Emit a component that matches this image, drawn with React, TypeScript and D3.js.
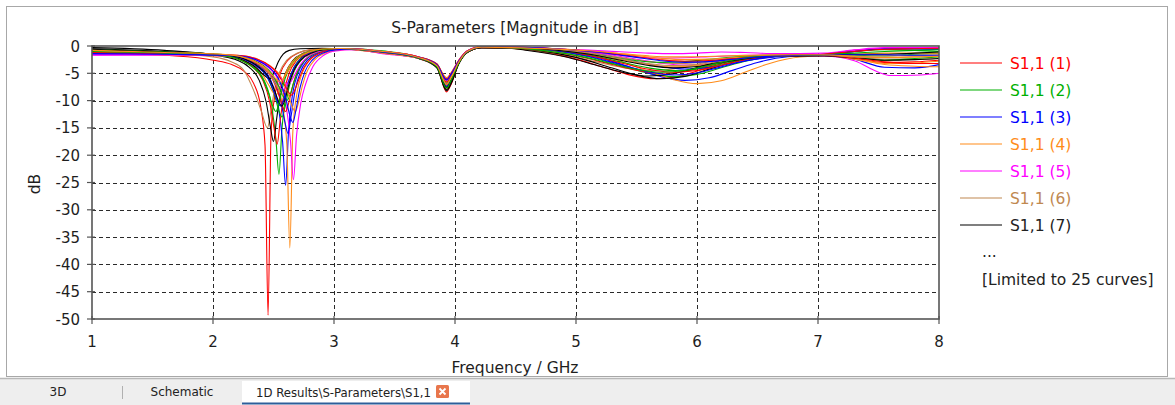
import React from "react";
import * as d3 from "d3";

type P = [number, number];

const xTicks = [1, 2, 3, 4, 5, 6, 7, 8];
const yTicks = [0, -5, -10, -15, -20, -25, -30, -35, -40, -45, -50];
const colors = ["#ff0000", "#00b000", "#0000ff", "#ff8c1a", "#ff00ff", "#c08850", "#000000"];
const legendLabels = ["S1,1 (1)", "S1,1 (2)", "S1,1 (3)", "S1,1 (4)", "S1,1 (5)", "S1,1 (6)", "S1,1 (7)"];
const tabs = ["3D", "Schematic", "1D Results\\S-Parameters\\S1,1"];

const s01: P[] = [[1.0,-1.2],[1.6,-1.7],[2.005,-2.6],[2.155,-3.4],[2.255,-4.6],[2.335,-6.8],[2.395,-11.2],[2.43,-18.2],[2.455,-49.3],[2.48,-15.7],[2.515,-8.6],[2.555,-5.1],[2.615,-2.7],[2.705,-1.3],[2.805,-0.7],[2.955,-0.5],[3.4,-1.2],[3.7,-2.3],[3.85,-3.9],[3.93,-8.4],[3.97,-6.9],[4.03,-3.3],[4.1,-1.2],[4.22,-0.3],[4.45,-0.4],[4.65,-0.85],[4.95,-2.08],[5.25,-4.04],[5.45,-5.33],[5.65,-6.0],[5.85,-5.56],[6.05,-4.24],[6.25,-2.92],[6.5,-1.95],[7.05,-1.7],[7.3,-2.3],[7.55,-3.0],[7.8,-2.9],[8.0,-2.6]];
const s02: P[] = [[1.0,-1.0],[1.6,-1.3],[2.095,-1.8],[2.245,-2.6],[2.345,-4.0],[2.425,-6.4],[2.485,-11.0],[2.52,-17.1],[2.545,-23.5],[2.57,-15.1],[2.605,-8.5],[2.645,-5.1],[2.705,-2.7],[2.795,-1.3],[2.895,-0.7],[3.045,-0.5],[3.4,-1.1],[3.7,-2.2],[3.85,-3.6],[3.93,-7.5],[3.97,-6.0],[4.03,-3.1],[4.1,-1.1],[4.22,-0.2],[4.45,-0.3],[4.8,-0.82],[5.1,-1.96],[5.4,-3.78],[5.6,-4.98],[5.8,-5.6],[6.0,-5.2],[6.2,-4.0],[6.4,-2.8],[6.65,-1.92],[7.05,-1.6],[7.3,-1.7],[7.55,-1.8],[7.8,-1.5],[8.0,-1.3]];
const s03: P[] = [[1.0,-1.3],[1.6,-1.5],[2.15,-1.8],[2.3,-2.6],[2.4,-4.0],[2.48,-6.4],[2.54,-11.0],[2.575,-17.5],[2.6,-25.5],[2.625,-15.3],[2.66,-8.5],[2.7,-5.1],[2.76,-2.7],[2.85,-1.3],[2.95,-0.7],[3.1,-0.6],[3.4,-1.3],[3.7,-2.3],[3.85,-3.7],[3.93,-7.0],[3.97,-5.6],[4.03,-3.0],[4.1,-1.1],[4.22,-0.3],[4.45,-0.3],[4.9,-0.87],[5.2,-2.17],[5.5,-4.24],[5.7,-5.59],[5.9,-6.3],[6.1,-5.83],[6.3,-4.42],[6.5,-3.01],[6.75,-1.98],[7.05,-1.7],[7.3,-2.4],[7.55,-3.9],[7.8,-4.0],[8.0,-3.4]];
const s04: P[] = [[1.0,-1.5],[1.6,-1.6],[2.185,-1.8],[2.335,-2.6],[2.435,-4.0],[2.515,-6.4],[2.575,-11.0],[2.61,-18.0],[2.635,-37],[2.66,-15.6],[2.695,-8.5],[2.735,-5.1],[2.795,-2.7],[2.885,-1.3],[2.985,-0.7],[3.135,-0.6],[3.4,-1.2],[3.7,-2.1],[3.85,-3.4],[3.93,-6.5],[3.97,-5.3],[4.03,-2.9],[4.1,-1.0],[4.22,-0.2],[4.45,-0.4],[5.0,-0.92],[5.3,-2.35],[5.6,-4.63],[5.8,-6.12],[6.0,-6.9],[6.2,-6.37],[6.4,-4.78],[6.6,-3.19],[6.85,-2.02],[7.05,-1.8],[7.3,-2.2],[7.55,-3.2],[7.8,-3.1],[8.0,-2.8]];
const s05: P[] = [[1.0,-1.7],[1.6,-1.7],[2.215,-1.9],[2.365,-2.7],[2.465,-4.1],[2.545,-6.5],[2.605,-11.0],[2.64,-17.3],[2.665,-24.5],[2.69,-16.5],[2.725,-10.5],[2.765,-7.0],[2.825,-3.8],[2.915,-1.7],[3.015,-0.9],[3.165,-0.7],[3.4,-1.4],[3.7,-2.2],[3.85,-3.5],[3.93,-6.3],[3.97,-5.2],[4.03,-2.8],[4.1,-1.0],[4.22,-0.2],[4.45,-0.3],[4.9,-0.65],[5.2,-1.33],[5.5,-2.42],[5.7,-3.13],[5.9,-3.5],[6.1,-3.31],[6.3,-2.74],[6.5,-2.17],[6.75,-1.75],[7.05,-1.8],[7.3,-2.7],[7.5,-4.8],[7.6,-5.4],[7.85,-5.3],[8.0,-5.0]];
const s06: P[] = [[1.0,-1.1],[1.6,-1.4],[2.0,-2.0],[2.15,-2.9],[2.25,-4.3],[2.31,-6.8],[2.36,-9.5],[2.4,-12.0],[2.45,-15],[2.475,-12.4],[2.51,-7.8],[2.55,-4.8],[2.61,-2.6],[2.7,-1.29],[2.8,-0.71],[2.95,-0.5],[3.4,-1.1],[3.7,-2.2],[3.85,-3.8],[3.93,-7.8],[3.97,-6.3],[4.03,-3.2],[4.1,-1.2],[4.22,-0.3],[4.45,-0.4],[4.6,-0.73],[4.9,-1.63],[5.2,-3.07],[5.4,-4.01],[5.6,-4.5],[5.8,-4.21],[6.0,-3.34],[6.2,-2.47],[6.45,-1.83],[7.05,-1.6],[7.3,-2.0],[7.55,-2.4],[7.8,-2.4],[8.0,-2.3]];
const s07: P[] = [[1.0,-0.3],[1.6,-0.8],[2.05,-1.8],[2.2,-2.6],[2.3,-3.9],[2.38,-6.2],[2.44,-10.3],[2.475,-14.9],[2.5,-17.5],[2.525,-13.5],[2.56,-8.1],[2.6,-4.95],[2.66,-2.66],[2.75,-1.3],[2.85,-0.72],[3.0,-0.5],[3.4,-1.0],[3.7,-2.3],[3.85,-4.0],[3.93,-8.2],[3.97,-6.8],[4.03,-3.3],[4.1,-1.2],[4.22,-0.3],[4.45,-0.3],[4.7,-0.85],[5.0,-2.08],[5.3,-4.04],[5.5,-5.33],[5.7,-6.0],[5.9,-5.56],[6.1,-4.24],[6.3,-2.92],[6.55,-1.95],[7.05,-1.5],[7.3,-0.9],[7.55,-0.6],[7.8,-0.5],[8.0,-0.5]];
const s08: P[] = [[1.0,-0.9],[1.6,-1.2],[2.08,-1.8],[2.23,-2.6],[2.33,-3.9],[2.41,-6.2],[2.47,-10.4],[2.505,-15.1],[2.53,-18],[2.555,-13.7],[2.59,-8.2],[2.63,-4.95],[2.69,-2.66],[2.78,-1.33],[2.88,-0.72],[3.03,-0.5],[3.4,-1.2],[3.7,-2.2],[3.85,-3.7],[3.93,-7.2],[3.97,-5.9],[4.03,-3.1],[4.1,-1.1],[4.22,-0.2],[4.45,-0.3],[4.7,-0.77],[5.0,-1.78],[5.3,-3.39],[5.5,-4.45],[5.7,-5.0],[5.9,-4.66],[6.1,-3.64],[6.3,-2.62],[6.55,-1.87],[7.05,-1.5],[7.3,-0.8],[7.55,-0.4],[7.8,-0.3],[8.0,-0.3]];
const s09: P[] = [[1.0,-0.8],[1.6,-1.1],[2.12,-1.77],[2.27,-2.52],[2.37,-3.8],[2.45,-5.75],[2.51,-9.1],[2.545,-11.9],[2.57,-13],[2.595,-11.2],[2.63,-7.4],[2.67,-4.64],[2.73,-2.56],[2.82,-1.27],[2.92,-0.7],[3.07,-0.5],[3.4,-1.0],[3.7,-2.1],[3.85,-3.5],[3.93,-6.8],[3.97,-5.6],[4.03,-3.0],[4.1,-1.0],[4.22,-0.2],[4.45,-0.3],[4.8,-0.73],[5.1,-1.63],[5.4,-3.07],[5.6,-4.01],[5.8,-4.5],[6.0,-4.21],[6.2,-3.34],[6.4,-2.47],[6.65,-1.83],[7.05,-1.7],[7.3,-2.1],[7.55,-2.6],[7.8,-2.3],[8.0,-2.0]];
const s10: P[] = [[1.0,-1.2],[1.6,-1.3],[2.17,-1.8],[2.32,-2.6],[2.42,-3.9],[2.5,-6.1],[2.56,-10.0],[2.595,-14.0],[2.62,-16],[2.645,-12.9],[2.68,-8.0],[2.72,-4.86],[2.78,-2.63],[2.87,-1.3],[2.97,-0.71],[3.12,-0.5],[3.4,-1.1],[3.7,-2.0],[3.85,-3.3],[3.93,-6.0],[3.97,-4.9],[4.03,-2.7],[4.1,-0.9],[4.22,-0.2],[4.45,-0.2],[4.9,-0.7],[5.2,-1.54],[5.5,-2.87],[5.7,-3.74],[5.9,-4.2],[6.1,-3.94],[6.3,-3.16],[6.5,-2.38],[6.75,-1.81],[7.05,-1.6],[7.3,-1.0],[7.55,-0.5],[7.8,-0.5],[8.0,-0.6]];
const s11: P[] = [[1.0,-1.4],[1.6,-1.6],[2.07,-1.8],[2.22,-2.3],[2.32,-3.36],[2.4,-4.93],[2.46,-7.14],[2.52,-9],[2.58,-6.08],[2.62,-4.02],[2.68,-2.28],[2.77,-1.15],[2.87,-0.63],[3.02,-0.5],[3.4,-1.3],[3.7,-2.3],[3.85,-3.8],[3.93,-7.8],[3.97,-6.3],[4.03,-3.2],[4.1,-1.2],[4.22,-0.3],[4.45,-0.4],[4.8,-0.67],[5.1,-1.42],[5.4,-2.61],[5.6,-3.39],[5.8,-3.8],[6.0,-3.58],[6.2,-2.92],[6.4,-2.26],[6.65,-1.78],[7.05,-1.7],[7.3,-2.4],[7.55,-3.4],[7.8,-3.7],[8.0,-3.8]];
const s12: P[] = [[1.0,-1.6],[1.6,-1.6],[2.13,-1.8],[2.28,-2.25],[2.38,-3.21],[2.46,-4.62],[2.52,-6.53],[2.58,-8],[2.64,-5.62],[2.68,-3.79],[2.74,-2.18],[2.83,-1.1],[2.93,-0.6],[3.08,-0.5],[3.4,-1.2],[3.7,-2.1],[3.85,-3.5],[3.93,-6.8],[3.97,-5.5],[4.03,-2.9],[4.1,-1.0],[4.22,-0.2],[4.45,-0.2],[4.7,-0.54],[5.0,-0.94],[5.3,-1.57],[5.5,-1.98],[5.7,-2.2],[5.9,-2.14],[6.1,-1.96],[6.3,-1.78],[6.55,-1.65],[7.05,-1.5],[7.3,-0.8],[7.55,-0.4],[7.8,-0.3],[8.0,-0.3]];
const s13: P[] = [[1.0,-1.0],[1.6,-1.3],[2.1,-1.6],[2.25,-2.13],[2.35,-3.03],[2.43,-4.25],[2.49,-5.83],[2.55,-7],[2.61,-5.08],[2.65,-3.49],[2.71,-2.04],[2.8,-1.03],[2.9,-0.57],[3.05,-0.5],[3.4,-1.1],[3.7,-2.2],[3.85,-3.6],[3.93,-7.3],[3.97,-5.9],[4.03,-3.1],[4.1,-1.1],[4.22,-0.2],[4.45,-0.3],[4.8,-0.62],[5.1,-1.24],[5.4,-2.22],[5.6,-2.86],[5.8,-3.2],[6.0,-3.04],[6.2,-2.56],[6.4,-2.08],[6.65,-1.73],[7.05,-1.6],[7.3,-1.9],[7.55,-1.8],[7.8,-1.7],[8.0,-1.6]];
const s14: P[] = [[1.0,-0.5],[1.6,-1.0],[2.02,-1.56],[2.17,-2.03],[2.27,-2.81],[2.35,-3.84],[2.41,-5.12],[2.47,-6],[2.51,-4.5],[2.54,-2.9],[2.58,-1.5],[2.63,-0.8],[2.72,-0.5],[2.9,-0.4],[3.4,-1.0],[3.7,-2.2],[3.85,-3.9],[3.93,-8.0],[3.97,-6.6],[4.03,-3.3],[4.1,-1.2],[4.22,-0.3],[4.45,-0.4],[4.6,-0.81],[4.9,-1.93],[5.2,-3.72],[5.4,-4.89],[5.6,-5.5],[5.8,-5.11],[6.0,-3.94],[6.2,-2.77],[6.45,-1.91],[7.05,-1.8],[7.3,-2.2],[7.55,-2.6],[7.8,-2.5],[8.0,-2.3]];
const s15: P[] = [[1.0,-1.3],[1.6,-1.4],[2.15,-1.76],[2.3,-2.5],[2.4,-3.75],[2.48,-5.6],[2.54,-8.7],[2.575,-11.1],[2.6,-12],[2.625,-10.5],[2.66,-7.16],[2.7,-4.53],[2.76,-2.53],[2.85,-1.25],[2.95,-0.69],[3.1,-0.5],[3.4,-1.2],[3.7,-2.1],[3.85,-3.5],[3.93,-6.6],[3.97,-5.4],[4.03,-2.9],[4.1,-1.0],[4.22,-0.2],[4.45,-0.3],[4.8,-0.75],[5.1,-1.72],[5.4,-3.26],[5.6,-4.27],[5.8,-4.8],[6.0,-4.48],[6.2,-3.52],[6.4,-2.56],[6.65,-1.86],[7.05,-1.7],[7.3,-2.2],[7.55,-2.9],[7.8,-3.2],[8.0,-3.2]];
const s16: P[] = [[1.0,-0.7],[1.6,-1.1],[2.16,-1.72],[2.31,-2.4],[2.41,-3.5],[2.49,-5.2],[2.55,-7.7],[2.585,-9.45],[2.61,-10],[2.635,-9.06],[2.67,-6.5],[2.71,-4.22],[2.77,-2.37],[2.86,-1.18],[2.96,-0.65],[3.11,-0.45],[3.4,-0.9],[3.7,-2.0],[3.85,-3.5],[3.93,-6.9],[3.97,-5.6],[4.03,-3.0],[4.1,-1.0],[4.22,-0.2],[4.45,-0.2],[4.7,-0.61],[5.0,-1.18],[5.3,-2.09],[5.5,-2.69],[5.7,-3.0],[5.9,-2.86],[6.1,-2.44],[6.3,-2.02],[6.55,-1.71],[7.05,-1.5],[7.3,-1.0],[7.55,-0.7],[7.8,-0.8],[8.0,-1.0]];
const s17: P[] = [[1.0,-1.5],[1.6,-1.5],[2.11,-1.75],[2.26,-2.47],[2.36,-3.7],[2.44,-5.4],[2.5,-8.2],[2.535,-10.3],[2.56,-11],[2.585,-9.8],[2.62,-6.85],[2.66,-4.4],[2.72,-2.49],[2.81,-1.23],[2.91,-0.68],[3.06,-0.5],[3.4,-1.1],[3.7,-2.2],[3.85,-3.7],[3.93,-7.4],[3.97,-6.0],[4.03,-3.1],[4.1,-1.1],[4.22,-0.2],[4.45,-0.3],[4.8,-0.79],[5.1,-1.87],[5.4,-3.59],[5.6,-4.71],[5.8,-5.3],[6.0,-4.93],[6.2,-3.82],[6.4,-2.71],[6.65,-1.9],[7.05,-1.6],[7.3,-1.0],[7.55,-0.5],[7.8,-0.5],[8.0,-0.6]];
const s18: P[] = [[1.0,-1.1],[1.6,-1.2],[2.23,-1.76],[2.38,-2.5],[2.48,-3.75],[2.56,-5.6],[2.62,-8.7],[2.655,-11.1],[2.68,-12],[2.705,-10.5],[2.74,-7.16],[2.78,-4.53],[2.84,-2.53],[2.93,-1.25],[3.03,-0.69],[3.18,-0.6],[3.4,-1.0],[3.7,-2.0],[3.85,-3.3],[3.93,-5.8],[3.97,-4.8],[4.03,-2.6],[4.1,-0.9],[4.22,-0.1],[4.45,-0.2],[4.9,-0.57],[5.2,-1.03],[5.5,-1.77],[5.7,-2.25],[5.9,-2.5],[6.1,-2.41],[6.3,-2.14],[6.5,-1.87],[6.75,-1.67],[7.05,-1.6],[7.3,-1.5],[7.55,-1.3],[7.8,-1.3],[8.0,-1.3]];
const s19: P[] = [[1.0,-1.6],[1.6,-1.5],[2.17,-1.7],[2.32,-2.13],[2.42,-3.03],[2.5,-4.25],[2.56,-5.83],[2.62,-7],[2.68,-5.08],[2.72,-3.49],[2.78,-2.04],[2.87,-1.03],[2.97,-0.57],[3.12,-0.45],[3.4,-1.0],[3.7,-2.0],[3.85,-3.4],[3.93,-6.2],[3.97,-5.0],[4.03,-2.7],[4.1,-0.9],[4.22,-0.1],[4.45,-0.1],[4.8,-0.5],[5.1,-0.76],[5.4,-1.1],[5.6,-1.3],[5.8,-1.4],[6.0,-1.3],[6.2,-1.1],[6.4,-1.2],[6.65,-1.4],[7.05,-1.3],[7.3,-0.7],[7.55,-0.3],[7.8,-0.3],[8.0,-0.3]];
const s20: P[] = [[1.0,-0.9],[1.6,-1.3],[2.13,-1.7],[2.28,-2.3],[2.38,-3.36],[2.46,-4.93],[2.52,-7.14],[2.58,-9],[2.64,-6.08],[2.68,-4.02],[2.74,-2.28],[2.83,-1.15],[2.93,-0.63],[3.08,-0.5],[3.4,-1.2],[3.7,-2.2],[3.85,-3.6],[3.93,-7.0],[3.97,-5.7],[4.03,-3.0],[4.1,-1.1],[4.22,-0.2],[4.45,-0.3],[4.8,-0.66],[5.1,-1.36],[5.4,-2.48],[5.6,-3.22],[5.8,-3.6],[6.0,-3.4],[6.2,-2.8],[6.4,-2.2],[6.65,-1.76],[7.05,-1.7],[7.3,-2.0],[7.55,-2.1],[7.8,-2.0],[8.0,-1.8]];
const s21: P[] = [[1.0,-0.6],[1.6,-1.2],[2.12,-1.75],[2.27,-2.47],[2.37,-3.7],[2.45,-5.4],[2.51,-8.2],[2.545,-10.3],[2.57,-11],[2.595,-9.8],[2.63,-6.85],[2.67,-4.4],[2.73,-2.49],[2.82,-1.23],[2.92,-0.68],[3.07,-0.5],[3.4,-1.1],[3.7,-2.2],[3.85,-3.8],[3.93,-7.6],[3.97,-6.2],[4.03,-3.2],[4.1,-1.1],[4.22,-0.3],[4.45,-0.3],[4.8,-0.69],[5.1,-1.48],[5.4,-2.74],[5.6,-3.57],[5.8,-4.0],[6.0,-3.76],[6.2,-3.04],[6.4,-2.32],[6.65,-1.79],[7.05,-1.6],[7.3,-1.5],[7.55,-1.5],[7.8,-1.3],[8.0,-1.1]];
const s22: P[] = [[1.0,-1.2],[1.6,-1.4],[2.2,-1.7],[2.35,-2.3],[2.45,-3.36],[2.53,-4.93],[2.59,-7.14],[2.65,-9],[2.71,-6.08],[2.75,-4.02],[2.81,-2.28],[2.9,-1.15],[3.0,-0.63],[3.15,-0.5],[3.4,-1.0],[3.7,-2.0],[3.85,-3.3],[3.93,-6.1],[3.97,-5.0],[4.03,-2.7],[4.1,-0.9],[4.22,-0.2],[4.45,-0.2],[4.9,-0.59],[5.2,-1.12],[5.5,-1.96],[5.7,-2.51],[5.9,-2.8],[6.1,-2.68],[6.3,-2.32],[6.5,-1.96],[6.75,-1.7],[7.05,-1.5],[7.3,-1.0],[7.55,-0.6],[7.8,-0.5],[8.0,-0.4]];
const s23: P[] = [[1.0,-1.0],[1.6,-1.3],[2.07,-1.76],[2.22,-2.5],[2.32,-3.75],[2.4,-5.6],[2.46,-8.7],[2.495,-11.1],[2.52,-12],[2.545,-10.5],[2.58,-7.16],[2.62,-4.53],[2.68,-2.53],[2.77,-1.25],[2.87,-0.69],[3.02,-0.5],[3.4,-1.1],[3.7,-2.2],[3.85,-3.8],[3.93,-7.7],[3.97,-6.2],[4.03,-3.2],[4.1,-1.1],[4.22,-0.2],[4.45,-0.3],[4.7,-0.75],[5.0,-1.72],[5.3,-3.26],[5.5,-4.27],[5.7,-4.8],[5.9,-4.48],[6.1,-3.52],[6.3,-2.56],[6.55,-1.86],[7.05,-1.6],[7.3,-1.3],[7.55,-1.0],[7.8,-0.8],[8.0,-0.7]];
const s24: P[] = [[1.0,-1.4],[1.6,-1.5],[2.21,-1.78],[2.36,-2.55],[2.46,-3.83],[2.54,-5.9],[2.6,-9.4],[2.635,-12.7],[2.66,-14],[2.685,-11.8],[2.72,-7.6],[2.76,-4.7],[2.82,-2.58],[2.91,-1.28],[3.01,-0.71],[3.16,-0.55],[3.4,-1.1],[3.7,-2.1],[3.85,-3.4],[3.93,-6.2],[3.97,-5.1],[4.03,-2.8],[4.1,-1.0],[4.22,-0.2],[4.45,-0.2],[4.9,-0.61],[5.2,-1.18],[5.5,-2.09],[5.7,-2.69],[5.9,-3.0],[6.1,-2.86],[6.3,-2.44],[6.5,-2.02],[6.75,-1.71],[7.05,-1.6],[7.3,-1.6],[7.55,-1.6],[7.8,-1.7],[8.0,-1.7]];
const s25: P[] = [[1.0,-0.8],[1.6,-1.2],[2.105,-1.58],[2.255,-2.08],[2.355,-2.92],[2.435,-4.05],[2.495,-5.48],[2.555,-6.5],[2.615,-4.8],[2.655,-3.33],[2.715,-1.95],[2.805,-1.0],[2.905,-0.56],[3.05,-0.45],[3.4,-1.0],[3.7,-2.1],[3.85,-3.6],[3.93,-7.0],[3.97,-5.7],[4.03,-3.0],[4.1,-1.0],[4.22,-0.2],[4.45,-0.3],[4.8,-0.53],[5.1,-0.88],[5.4,-1.44],[5.6,-1.81],[5.8,-2.0],[6.0,-1.96],[6.2,-1.84],[6.4,-1.72],[6.65,-1.63],[7.05,-1.6],[7.3,-1.9],[7.55,-2.1],[7.8,-2.0],[8.0,-1.9]];

const series: P[][] = [s01, s02, s03, s04, s05, s06, s07, s08, s09, s10, s11, s12, s13, s14, s15, s16, s17, s18, s19, s20, s21, s22, s23, s24, s25];

const FONT = "'DejaVu Sans', Verdana, sans-serif";

export default function App() {
  const W = 1175, H = 405;
  const left = 92, right = 939, top = 46, bottom = 319;
  const x = d3.scaleLinear().domain([1, 8]).range([left, right]);
  const y = d3.scaleLinear().domain([-50, 0]).range([bottom, top]);
  const line = d3.line<P>().x((d) => x(d[0])).y((d) => y(d[1])).curve(d3.curveMonotoneX);
  const axisCol = "#555555";
  const textCol = "#1e1e1e";

  return (
    <svg width={W} height={H} style={{ position: "absolute", left: 0, top: 0, background: "#fff" }} fontFamily={FONT}>
      <defs>
        <clipPath id="plotclip">
          <rect x={left} y={top - 1} width={right - left} height={bottom - top + 2} />
        </clipPath>
      </defs>
      <rect x={0} y={0} width={W} height={H} fill="#ffffff" />
      <rect x={6.5} y={6.5} width={1161} height={370} fill="#ffffff" stroke="#a8a8a8" strokeWidth={1} />

      <text x={515} y={33} textAnchor="middle" fontSize={15.5} fill={textCol}>S-Parameters [Magnitude in dB]</text>

      {/* grid */}
      {yTicks.filter((t) => t !== 0 && t !== -50).map((t) => (
        <line key={"gy" + t} x1={left} x2={right} y1={Math.round(y(t)) + 0.5} y2={Math.round(y(t)) + 0.5} stroke="#2a2a2a" strokeWidth={1} strokeDasharray="4,3" />
      ))}
      {xTicks.filter((t) => t !== 1 && t !== 8).map((t) => (
        <line key={"gx" + t} y1={top} y2={bottom} x1={Math.round(x(t)) + 0.5} x2={Math.round(x(t)) + 0.5} stroke="#2a2a2a" strokeWidth={1} strokeDasharray="4,3" />
      ))}

      {/* curves */}
      <g clipPath="url(#plotclip)">
        {series.map((s, i) => (
          <path key={"c" + i} d={line(s) || ""} fill="none" stroke={colors[i % colors.length]} strokeWidth={1.1} strokeLinejoin="round" />
        ))}
      </g>

      {/* frame */}
      <rect x={left} y={top} width={right - left} height={bottom - top} fill="none" stroke={axisCol} strokeWidth={1.6} />

      {/* y ticks */}
      {yTicks.map((t) => (
        <g key={"yt" + t}>
          <line x1={left - 5} x2={left + 3} y1={y(t)} y2={y(t)} stroke={axisCol} strokeWidth={1.2} />
          <text x={80} y={y(t) + 5.5} textAnchor="end" fontSize={15} fill={textCol}>{t}</text>
        </g>
      ))}
      {/* x ticks */}
      {xTicks.map((t) => (
        <g key={"xt" + t}>
          <line x1={x(t)} x2={x(t)} y1={bottom - 3} y2={bottom + 5} stroke={axisCol} strokeWidth={1.2} />
          <text x={x(t)} y={347} textAnchor="middle" fontSize={15} fill={textCol}>{t}</text>
        </g>
      ))}

      <text x={515} y={373} textAnchor="middle" fontSize={15.5} fill={textCol}>Frequency / GHz</text>
      <text transform="translate(35,184) rotate(-90)" textAnchor="middle" dominantBaseline="central" fontSize={15.5} fill={textCol}>dB</text>

      {/* legend */}
      {legendLabels.map((lab, i) => (
        <g key={"lg" + i}>
          <line x1={960} x2={1002} y1={63 + i * 27} y2={63 + i * 27} stroke={colors[i]} strokeWidth={1.2} />
          <text x={1010} y={63 + i * 27 + 5.5} fontSize={15.5} fill={colors[i] === "#000000" ? "#222" : colors[i]}>{lab}</text>
        </g>
      ))}
      <text x={982} y={257} fontSize={15.5} fill="#222">...</text>
      <text x={982} y={285} fontSize={15.5} fill="#222">[Limited to 25 curves]</text>

      {/* tab bar */}
      <rect x={0} y={378} width={W} height={27} fill="#eeeeee" />
      <line x1={0} x2={W} y1={378.5} y2={378.5} stroke="#b8b8b8" strokeWidth={1.5} />
      <rect x={242} y={381} width={228} height={24} fill="#ffffff" />
      <line x1={242} x2={470} y1={403.5} y2={403.5} stroke="#2e5e9a" strokeWidth={2} />
      <text x={58} y={396} textAnchor="middle" fontSize={12} fill="#222">{tabs[0]}</text>
      <line x1={122.5} x2={122.5} y1={386} y2={399} stroke="#b0b0b0" strokeWidth={1} />
      <text x={182} y={396} textAnchor="middle" fontSize={12} fill="#222">{tabs[1]}</text>
      <text x={256} y={397} fontSize={12} fill="#222" textLength={175} lengthAdjust="spacingAndGlyphs">{tabs[2]}</text>
      <rect x={436} y={385} width={13} height={13} rx={1.5} fill="#e8764c" />
      <path d="M439.5,388.5 L445.5,394.5 M445.5,388.5 L439.5,394.5" stroke="#ffffff" strokeWidth={1.8} />
    </svg>
  );
}
